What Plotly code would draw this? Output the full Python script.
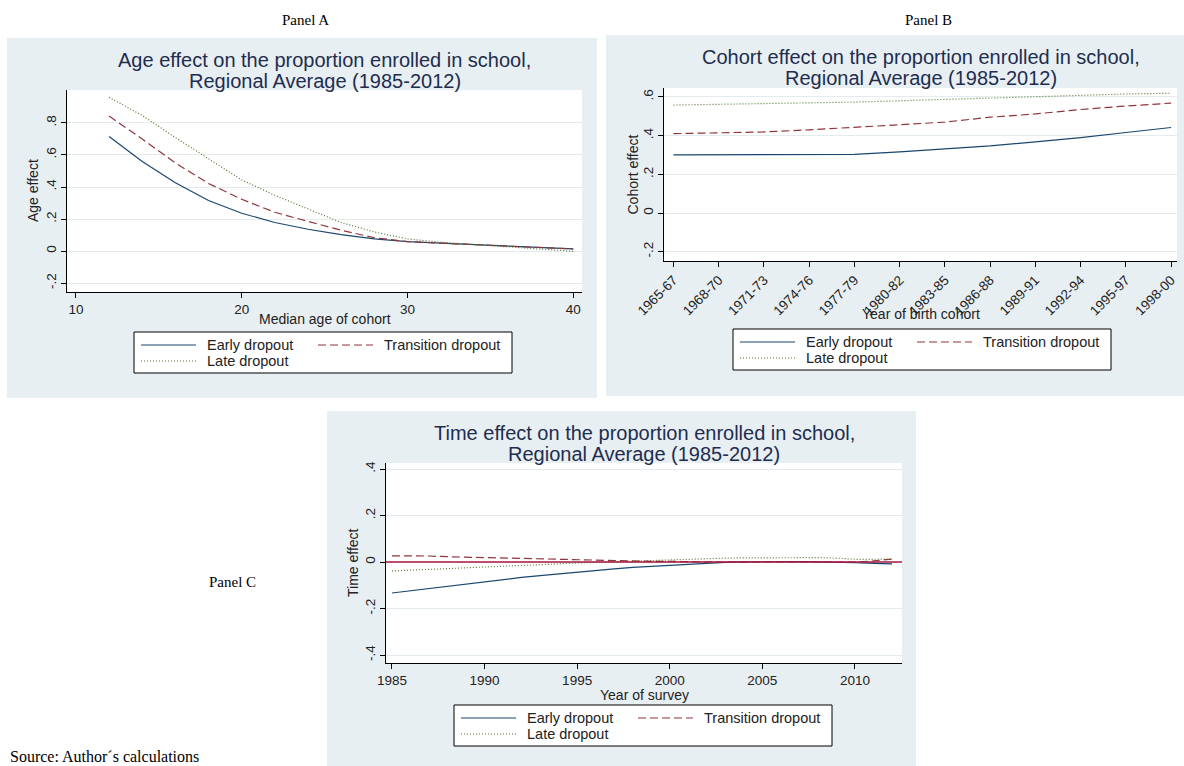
import plotly.graph_objects as go

# ---------------- data ----------------
series_names = ["Early dropout", "Transition dropout", "Late dropout"]

# Panel A: age effect
age = [12, 14, 16, 18, 20, 22, 24, 26, 28, 30, 32, 34, 36, 38, 40]
age_early = [0.716, 0.560, 0.427, 0.316, 0.236, 0.178, 0.136, 0.102, 0.076, 0.059, 0.049, 0.040, 0.030, 0.021, 0.013]
age_transition = [0.843, 0.700, 0.550, 0.422, 0.323, 0.242, 0.185, 0.130, 0.083, 0.059, 0.049, 0.040, 0.031, 0.022, 0.013]
age_late = [0.960, 0.847, 0.709, 0.575, 0.444, 0.348, 0.263, 0.178, 0.119, 0.076, 0.055, 0.040, 0.028, 0.013, -0.002]
age_ticks = [10, 20, 30, 40]
age_yticks = [-0.2, 0, 0.2, 0.4, 0.6, 0.8]
age_yticktext = ["-.2", "0", ".2", ".4", ".6", ".8"]

# Panel B: cohort effect
cohorts = ["1965-67", "1968-70", "1971-73", "1974-76", "1977-79", "1980-82",
           "1983-85", "1986-88", "1989-91", "1992-94", "1995-97", "1998-00"]
cohort_early = [0.300, 0.300, 0.300, 0.300, 0.303, 0.316, 0.330, 0.347, 0.368, 0.390, 0.416, 0.442]
cohort_transition = [0.410, 0.413, 0.419, 0.430, 0.442, 0.456, 0.470, 0.495, 0.512, 0.535, 0.553, 0.568]
cohort_late = [0.558, 0.561, 0.564, 0.568, 0.573, 0.580, 0.587, 0.595, 0.600, 0.610, 0.615, 0.619]
cohort_yticks = [-0.2, 0, 0.2, 0.4, 0.6]
cohort_yticktext = ["-.2", "0", ".2", ".4", ".6"]

# Panel C: time effect
years = list(range(1985, 2013))
time_early = [-0.133, -0.123, -0.113, -0.103, -0.093, -0.084, -0.075, -0.066, -0.058, -0.050,
              -0.043, -0.036, -0.029, -0.023, -0.018, -0.013, -0.008, -0.004, -0.001, 0.001,
              0.002, 0.002, 0.002, 0.001, 0.000, -0.003, -0.006, -0.008]
time_transition = [0.027, 0.027, 0.026, 0.023, 0.021, 0.019, 0.018, 0.016, 0.013, 0.011,
                   0.009, 0.007, 0.004, 0.003, 0.003, 0.003, 0.002, -0.001, 0.000, 0.001,
                   0.001, 0.002, 0.001, 0.001, 0.001, 0.000, 0.005, 0.013]
time_late = [-0.038, -0.035, -0.032, -0.029, -0.026, -0.023, -0.019, -0.014, -0.011, -0.008,
             -0.004, -0.001, 0.002, 0.004, 0.007, 0.009, 0.012, 0.015, 0.017, 0.018,
             0.019, 0.019, 0.019, 0.019, 0.017, 0.012, 0.012, 0.013]
time_xticks = [1985, 1990, 1995, 2000, 2005, 2010]
time_yticks = [-0.4, -0.2, 0, 0.2, 0.4]
time_yticktext = ["-.4", "-.2", "0", ".2", ".4"]

# ---------------- style ----------------
W, H = 1184, 766
BG = "#e8eff2"
GRID = "#e4ebee"
NAVY = "#1a476f"
MAROON = "#90353b"
GREEN = "#55752f"
YLINE = "#a8173f"
TITLE_C = "#1e2d4f"
TXT = "#222222"
SANS = "Liberation Sans, Arial, sans-serif"
SERIF = "Liberation Serif, Times New Roman, serif"

line_styles = [
    dict(color=NAVY, width=1.2),
    dict(color=MAROON, width=1.2, dash="8px,4px"),
    dict(color=GREEN, width=1.2, dash="1px,2px"),
]


def px(x):
    return x / W


def py(y):
    return 1 - y / H


# panel geometry (pixels)
panels = {
    "A": dict(bg=(7, 38, 597, 398), plot=(67, 90, 582, 292), xt=319, leg=(134, 332, 512, 373)),
    "B": dict(bg=(606, 35, 1196, 396), plot=(664, 88, 1177, 261), xt=314, leg=(733, 329, 1111, 370)),
    "C": dict(bg=(327, 411, 916, 780), plot=(386, 463, 902, 663), xt=695, leg=(454, 705, 832, 746)),
}

fig = go.Figure()

datasets = [
    ("x", "y", age, [age_early, age_transition, age_late]),
    ("x2", "y2", cohorts, [cohort_early, cohort_transition, cohort_late]),
    ("x3", "y3", years, [time_early, time_transition, time_late]),
]
for xa, ya, xs, ys_list in datasets:
    for name, ys, st in zip(series_names, ys_list, line_styles):
        fig.add_trace(go.Scatter(x=xs, y=ys, mode="lines", name=name, line=st,
                                 xaxis=xa, yaxis=ya, showlegend=False, hoverinfo="skip"))

shapes = []
annotations = []

# backgrounds and white plot regions
for key in ["A", "B", "C"]:
    x0, y0, x1, y1 = panels[key]["bg"]
    shapes.append(dict(type="rect", xref="paper", yref="paper", x0=px(x0), x1=px(x1),
                       y0=py(y1), y1=py(y0), fillcolor=BG, line=dict(width=0), layer="below"))
for key in ["A", "B", "C"]:
    x0, y0, x1, y1 = panels[key]["plot"]
    shapes.append(dict(type="rect", xref="paper", yref="paper", x0=px(x0), x1=px(x1),
                       y0=py(y1), y1=py(y0), fillcolor="white", line=dict(width=0), layer="below"))

# yline(0) in panel C
shapes.append(dict(type="line", xref="x3 domain", yref="y3", x0=0, x1=1, y0=0, y1=0,
                   line=dict(color=YLINE, width=1.5)))

# titles
titles = {
    "A": ("Age effect on the proportion enrolled in school,", "Regional Average (1985-2012)"),
    "B": ("Cohort effect on the proportion enrolled in school,", "Regional Average (1985-2012)"),
    "C": ("Time effect on the proportion enrolled in school,", "Regional Average (1985-2012)"),
}
ytitles = {"A": "Age effect", "B": "Cohort effect", "C": "Time effect"}
xtitles = {"A": "Median age of cohort", "B": "Year of birth cohort", "C": "Year of survey"}

for key in ["A", "B", "C"]:
    bx0, by0, bx1, by1 = panels[key]["bg"]
    x0, y0, x1, y1 = panels[key]["plot"]
    cx = (x0 + x1) / 2
    l1, l2 = titles[key]
    annotations.append(dict(text=l1, x=px(cx), y=py(by0 + 22), xref="paper", yref="paper",
                            showarrow=False, xanchor="center", yanchor="middle",
                            font=dict(family=SANS, size=20, color=TITLE_C)))
    annotations.append(dict(text=l2, x=px(cx), y=py(by0 + 43), xref="paper", yref="paper",
                            showarrow=False, xanchor="center", yanchor="middle",
                            font=dict(family=SANS, size=20, color=TITLE_C)))
    annotations.append(dict(text=ytitles[key], x=px(bx0 + 26), y=py((y0 + y1) / 2), xref="paper",
                            yref="paper", showarrow=False, textangle=-90, xanchor="center",
                            yanchor="middle", font=dict(family=SANS, size=14, color=TXT)))
    annotations.append(dict(text=xtitles[key], x=px(cx), y=py(panels[key]["xt"]), xref="paper",
                            yref="paper", showarrow=False, xanchor="center", yanchor="middle",
                            font=dict(family=SANS, size=14, color=TXT)))

    # legend box
    lx0, ly0, lx1, ly1 = panels[key]["leg"]
    shapes.append(dict(type="rect", xref="paper", yref="paper", x0=px(lx0), x1=px(lx1),
                       y0=py(ly1), y1=py(ly0), fillcolor="white",
                       line=dict(color="black", width=1)))
    r1 = ly0 + 13
    r2 = ly0 + 29
    entries = [(lx0 + 7, r1, 0), (lx0 + 184, r1, 1), (lx0 + 7, r2, 2)]
    for ex, ey, idx in entries:
        st = dict(line_styles[idx])
        shapes.append(dict(type="line", xref="paper", yref="paper", x0=px(ex), x1=px(ex + 55),
                           y0=py(ey), y1=py(ey), line=st))
        annotations.append(dict(text=series_names[idx], x=px(ex + 64), y=py(ey), xref="paper",
                                yref="paper", showarrow=False, xanchor="left", yanchor="middle",
                                font=dict(family=SANS, size=14.5, color=TXT)))

# panel labels and source
for text, x, y in [("Panel A", 305, 20), ("Panel B", 928, 20), ("Panel C", 232, 582)]:
    annotations.append(dict(text=text, x=px(x), y=py(y), xref="paper", yref="paper",
                            showarrow=False, xanchor="center", yanchor="middle",
                            font=dict(family=SERIF, size=15, color="black")))
annotations.append(dict(text="Source: Author´s calculations", x=px(8), y=py(756), xref="paper",
                        yref="paper", showarrow=False, xanchor="left", yanchor="middle",
                        font=dict(family=SERIF, size=16, color="black")))


def dom(key):
    x0, y0, x1, y1 = panels[key]["plot"]
    return [px(x0), px(x1)], [py(y1), py(y0)]


common_x = dict(showline=True, linecolor="black", linewidth=1, ticks="outside", ticklen=5,
                tickcolor="black", showgrid=False, zeroline=False, automargin=False,
                tickfont=dict(family=SANS, size=13.5, color=TXT))
common_y = dict(showline=True, linecolor="black", linewidth=1, ticks="outside", ticklen=5,
                tickcolor="black", showgrid=True, gridcolor=GRID, gridwidth=1, zeroline=False,
                automargin=False, tickangle=-90, tickfont=dict(family=SANS, size=13.5, color=TXT))

dxA, dyA = dom("A")
dxB, dyB = dom("B")
dxC, dyC = dom("C")

fig.update_layout(
    width=W, height=H, margin=dict(l=0, r=0, t=0, b=0, autoexpand=False),
    paper_bgcolor="white", plot_bgcolor="rgba(0,0,0,0)",
    showlegend=False,
    xaxis=dict(domain=dxA, anchor="y", range=[9.46, 40.53], tickvals=age_ticks, **common_x),
    yaxis=dict(domain=dyA, anchor="x", range=[-0.256, 1.006], tickvals=age_yticks,
               ticktext=age_yticktext, **common_y),
    xaxis2=dict(domain=dxB, anchor="y2", type="category", range=[-0.21, 11.13],
                tickangle=-45, **common_x),
    yaxis2=dict(domain=dyB, anchor="x2", range=[-0.248, 0.646], tickvals=cohort_yticks,
                ticktext=cohort_yticktext, **common_y),
    xaxis3=dict(domain=dxC, anchor="y3", range=[1984.68, 2012.54], tickvals=time_xticks, **common_x),
    yaxis3=dict(domain=dyC, anchor="x3", range=[-0.434, 0.426], tickvals=time_yticks,
                ticktext=time_yticktext, **common_y),
    shapes=shapes,
    annotations=annotations,
)

fig.write_html(
    "out.html",
    config={"displayModeBar": False},
    post_script="document.body.style.margin='0px';document.body.style.overflow='hidden';",
)
